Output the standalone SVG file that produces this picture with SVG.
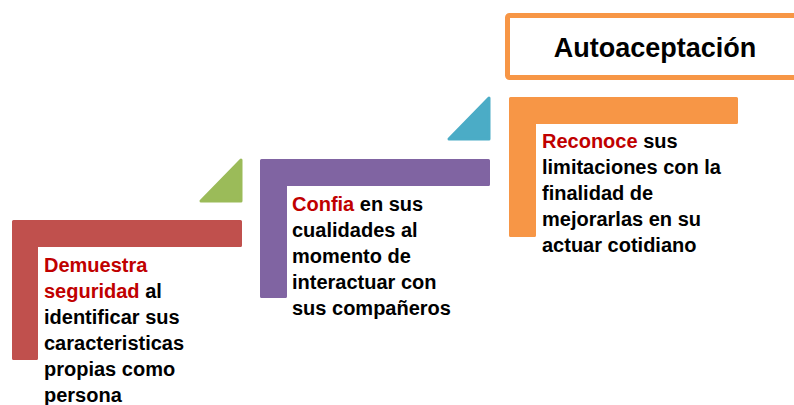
<svg xmlns="http://www.w3.org/2000/svg" width="794" height="405" viewBox="0 0 794 405">
<style>
.t{font-family:"Liberation Sans",Arial,sans-serif;font-weight:bold;font-size:20px;fill:#000}
.k{fill:#C00000}
.sh{stroke-width:3;stroke-linejoin:round}
.title{font-family:"Liberation Sans",Arial,sans-serif;font-weight:bold;font-size:27px;fill:#000}
</style>
<rect width="794" height="405" fill="#fff"/>
<g id="connectors">
<polygon class="sh" points="241,160 241,201 201,201" fill="#9BBB59" stroke="#9BBB59"/>
<polygon class="sh" points="489,98 489,139 449,139" fill="#4BACC6" stroke="#4BACC6"/>
</g>
<g id="step1">
<polygon class="sh" points="13.5,221.5 240.5,221.5 240.5,245.5 36.5,245.5 36.5,358.5 13.5,358.5" fill="#C0504D" stroke="#C0504D"/>
<text class="t" x="44" y="272"><tspan class="k">Demuestra</tspan></text>
<text class="t" x="44" y="298"><tspan class="k">seguridad</tspan> al</text>
<text class="t" x="44" y="324">identificar sus</text>
<text class="t" x="44" y="350">caracteristicas</text>
<text class="t" x="44" y="376">propias como</text>
<text class="t" x="44" y="402">persona</text>
</g>
<g id="step2">
<polygon class="sh" points="261.5,160.5 488.5,160.5 488.5,184.5 285.5,184.5 285.5,296.5 261.5,296.5" fill="#8064A2" stroke="#8064A2"/>
<text class="t" x="292" y="211"><tspan class="k">Confia</tspan> en sus</text>
<text class="t" x="292" y="237">cualidades al</text>
<text class="t" x="292" y="263">momento de</text>
<text class="t" x="292" y="289">interactuar con</text>
<text class="t" x="292" y="315">sus compañeros</text>
</g>
<g id="step3">
<polygon class="sh" points="510.5,98.5 736.5,98.5 736.5,122.5 534.5,122.5 534.5,235.5 510.5,235.5" fill="#F79646" stroke="#F79646"/>
<text class="t" x="542" y="148"><tspan class="k">Reconoce</tspan> sus</text>
<text class="t" x="542" y="174">limitaciones con la</text>
<text class="t" x="542" y="200">finalidad de</text>
<text class="t" x="542" y="226">mejorarlas en su</text>
<text class="t" x="542" y="252">actuar cotidiano</text>
</g>
<g id="title">
<rect x="507.5" y="15.5" width="300" height="62" rx="2" fill="#fff" stroke="#F79646" stroke-width="5"/>
<text class="title" x="655" y="57" text-anchor="middle">Autoaceptación</text>
</g>
</svg>
